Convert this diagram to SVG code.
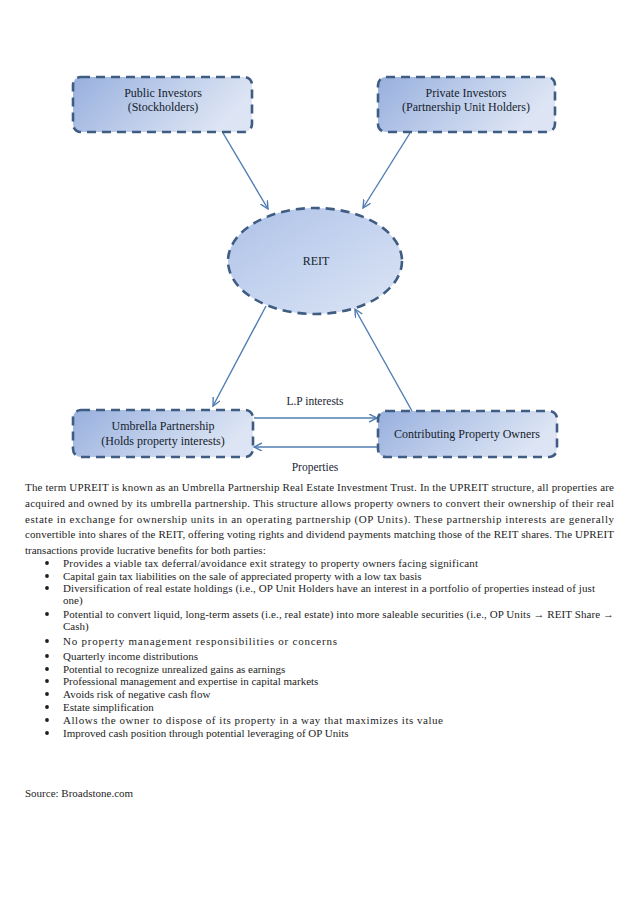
<svg xmlns="http://www.w3.org/2000/svg" width="638" height="903" viewBox="0 0 638 903">
<style>
.node{stroke:#3f5c82;stroke-width:2.6;stroke-dasharray:9 6;stroke-linecap:butt}
.nt{font-family:"Liberation Serif",serif;font-size:12px;fill:#141d2c;text-anchor:middle}
.lbl{font-family:"Liberation Serif",serif;font-size:11.5px;fill:#1c2636;text-anchor:middle}
.conn{stroke:#4f7db3;stroke-width:1.4;fill:none}
.body{font-family:"Liberation Serif",serif;font-size:11px;fill:#1e1e1e}
.dot{fill:#1e1e1e}
</style>
<defs>
<linearGradient id="gBox" x1="0" y1="0" x2="1" y2="0.3">
<stop offset="0" stop-color="#98b0de"/>
<stop offset="1" stop-color="#dde5f4"/>
</linearGradient>
<linearGradient id="gEll" x1="0" y1="0" x2="1" y2="1">
<stop offset="0" stop-color="#aec2e8"/>
<stop offset="1" stop-color="#dce5f5"/>
</linearGradient>
<marker id="arr" markerWidth="10" markerHeight="10" refX="8" refY="4" orient="auto" markerUnits="userSpaceOnUse">
<path d="M0,0 L8,4 L0,8" fill="none" stroke="#4f7db3" stroke-width="1.4"/>
</marker>
</defs>
<rect width="638" height="903" fill="#ffffff"/>

<g id="connectors">
<line class="conn" x1="223" y1="133" x2="268" y2="209" marker-end="url(#arr)"/>
<line class="conn" x1="410" y1="133" x2="363" y2="208" marker-end="url(#arr)"/>
<line class="conn" x1="266" y1="306" x2="213" y2="406" marker-end="url(#arr)"/>
<line class="conn" x1="412" y1="411" x2="355" y2="309" marker-end="url(#arr)"/>
<line class="conn" x1="254" y1="418" x2="377" y2="418" marker-end="url(#arr)"/>
<line class="conn" x1="377" y1="447" x2="254" y2="447" marker-end="url(#arr)"/>
<text class="lbl" x="315" y="405">L.P interests</text>
<text class="lbl" x="315" y="471">Properties</text>
</g>

<g id="public-investors">
<rect class="node" x="73" y="77" width="179" height="55" rx="8" fill="url(#gBox)"/>
<text class="nt" x="163" y="97">Public Investors</text>
<text class="nt" x="163" y="111">(Stockholders)</text>
</g>

<g id="private-investors">
<rect class="node" x="378" y="77" width="177" height="55" rx="8" fill="url(#gBox)"/>
<text class="nt" x="466" y="97">Private Investors</text>
<text class="nt" x="466" y="111">(Partnership Unit Holders)</text>
</g>

<g id="reit">
<ellipse class="node" cx="315" cy="261" rx="87" ry="53" fill="url(#gEll)"/>
<text class="nt" x="316" y="265">REIT</text>
</g>

<g id="umbrella-partnership">
<rect class="node" x="73" y="410" width="180" height="47" rx="8" fill="url(#gBox)"/>
<text class="nt" x="163" y="430">Umbrella Partnership</text>
<text class="nt" x="163" y="445">(Holds property interests)</text>
</g>

<g id="contributing-owners">
<rect class="node" x="378" y="411" width="179" height="46" rx="8" fill="url(#gBox)"/>
<text class="nt" x="467" y="438">Contributing Property Owners</text>
</g>

<g id="paragraph">
<text class="body" x="25" y="491" textLength="589" lengthAdjust="spacing">The term UPREIT is known as an Umbrella Partnership Real Estate Investment Trust. In the UPREIT structure, all properties are</text>
<text class="body" x="25" y="507" textLength="589" lengthAdjust="spacing">acquired and owned by its umbrella partnership. This structure allows property owners to convert their ownership of their real</text>
<text class="body" x="25" y="523" textLength="589" lengthAdjust="spacing">estate in exchange for ownership units in an operating partnership (OP Units). These partnership interests are generally</text>
<text class="body" x="25" y="538" textLength="589" lengthAdjust="spacing">convertible into shares of the REIT, offering voting rights and dividend payments matching those of the REIT shares. The UPREIT</text>
<text class="body" x="25" y="554">transactions provide lucrative benefits for both parties:</text>
</g>

<g id="bullets">
<circle class="dot" cx="47" cy="563" r="1.9"/>
<text class="body" x="63" y="567" textLength="415" lengthAdjust="spacing">Provides a viable tax deferral/avoidance  exit strategy to property owners facing significant</text>
<circle class="dot" cx="47" cy="576" r="1.9"/>
<text class="body" x="63" y="580">Capital gain tax liabilities on the sale of appreciated property with a low tax basis</text>
<circle class="dot" cx="47" cy="588" r="1.9"/>
<text class="body" x="63" y="592" textLength="532" lengthAdjust="spacing">Diversification of real estate holdings (i.e., OP Unit Holders have an interest in a portfolio of properties instead of just</text>
<text class="body" x="63" y="604">one)</text>
<circle class="dot" cx="47" cy="614" r="1.9"/>
<text class="body" x="63" y="618" textLength="551" lengthAdjust="spacing">Potential to convert liquid, long-term assets (i.e., real estate) into more saleable securities (i.e., OP Units → REIT Share →</text>
<text class="body" x="63" y="630">Cash)</text>
<circle class="dot" cx="47" cy="641" r="1.9"/>
<text class="body" x="63" y="645" textLength="274" lengthAdjust="spacing">No property management responsibilities or concerns</text>
<circle class="dot" cx="47" cy="656" r="1.9"/>
<text class="body" x="63" y="660">Quarterly income distributions</text>
<circle class="dot" cx="47" cy="669" r="1.9"/>
<text class="body" x="63" y="673">Potential to recognize unrealized gains as earnings</text>
<circle class="dot" cx="47" cy="681" r="1.9"/>
<text class="body" x="63" y="685">Professional management and expertise in capital markets</text>
<circle class="dot" cx="47" cy="694" r="1.9"/>
<text class="body" x="63" y="698">Avoids risk of negative cash flow</text>
<circle class="dot" cx="47" cy="707" r="1.9"/>
<text class="body" x="63" y="711">Estate simplification</text>
<circle class="dot" cx="47" cy="720" r="1.9"/>
<text class="body" x="63" y="724" textLength="380" lengthAdjust="spacing">Allows the owner to dispose of its property in a way that maximizes its value</text>
<circle class="dot" cx="47" cy="733" r="1.9"/>
<text class="body" x="63" y="737">Improved cash position through potential leveraging of OP Units</text>
</g>

<text class="body" x="25" y="797">Source: Broadstone.com</text>
</svg>
